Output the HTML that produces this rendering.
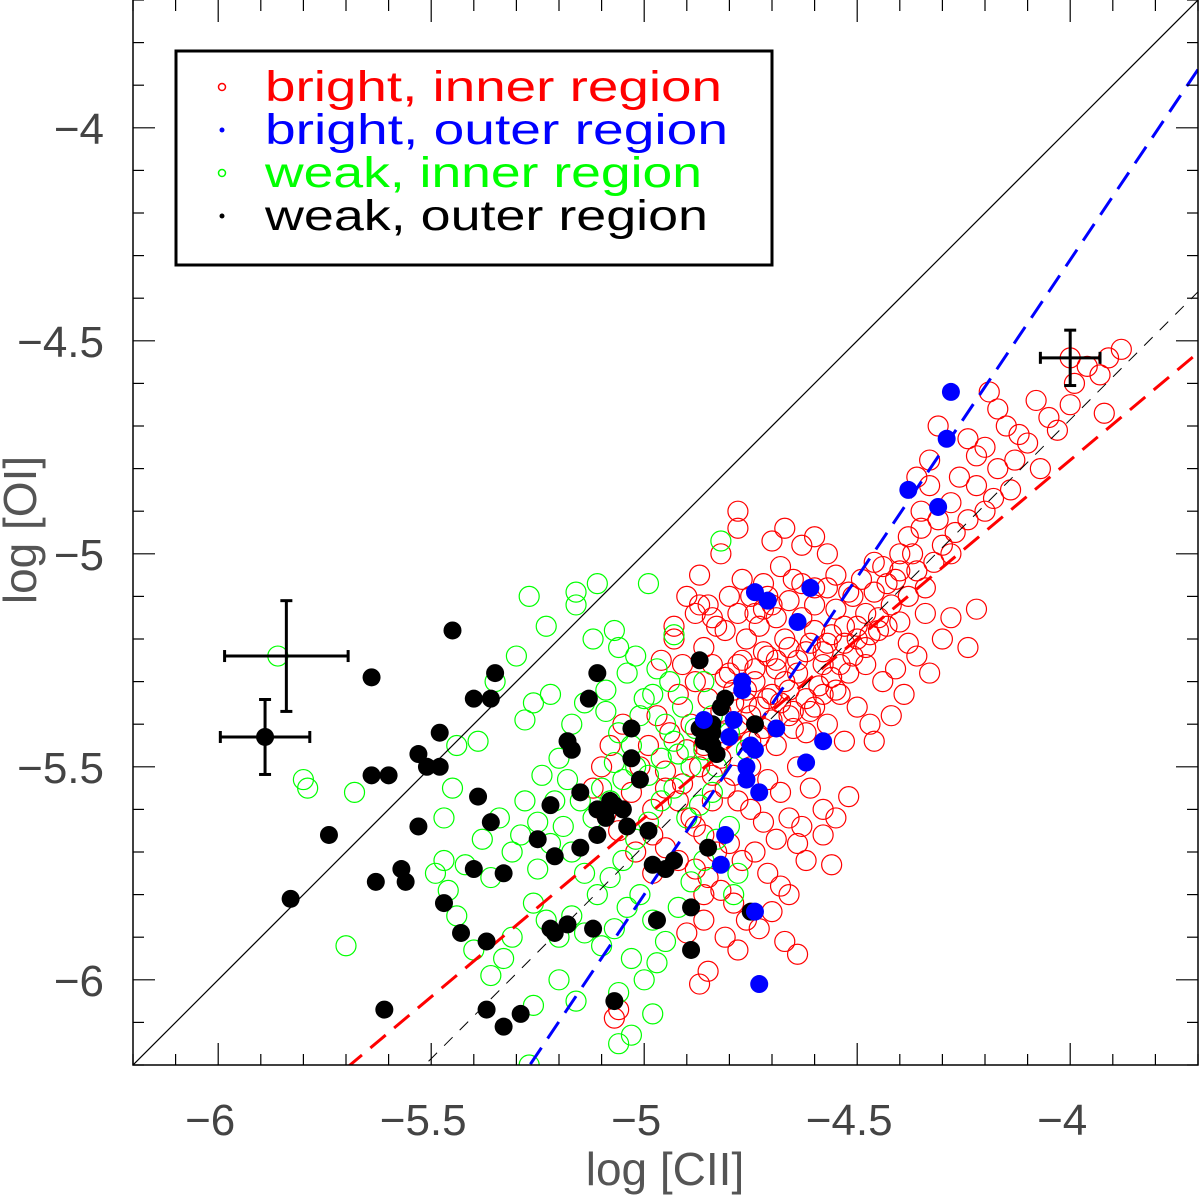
<!DOCTYPE html>
<html><head><meta charset="utf-8"><style>
html,body{margin:0;padding:0;background:#fff;width:1200px;height:1197px;overflow:hidden;}
svg{display:block;font-family:"Liberation Sans",sans-serif;}
</style></head><body>
<svg id="chart" width="1200" height="1197" viewBox="0 0 1200 1197" xmlns="http://www.w3.org/2000/svg">
<g id="marks"></g>
<g id="axes"></g>
<g id="legend">
<rect x="176" y="51" width="596" height="214" fill="#fff" stroke="#000" stroke-width="3"/>
<circle cx="222" cy="87" r="3.5" fill="none" stroke="#f00" stroke-width="1.5"/>
<text x="265" y="101" font-size="43" fill="#f00" textLength="457" lengthAdjust="spacingAndGlyphs">bright, inner region</text>
<circle cx="222" cy="130" r="2.5" fill="#00f"/>
<text x="265" y="144" font-size="43" fill="#00f" textLength="463" lengthAdjust="spacingAndGlyphs">bright, outer region</text>
<circle cx="222" cy="173" r="3.5" fill="none" stroke="#0f0" stroke-width="1.5"/>
<text x="265" y="187" font-size="43" fill="#0f0" textLength="437" lengthAdjust="spacingAndGlyphs">weak, inner region</text>
<circle cx="222" cy="216" r="2.5" fill="#000"/>
<text x="265" y="230" font-size="43" fill="#000" textLength="443" lengthAdjust="spacingAndGlyphs">weak, outer region</text>
</g>
</svg>
<script>
const xTicks=[-6,-5.5,-5,-4.5,-4];
const yTicks=[-6,-5.5,-5,-4.5,-4];
const xTickLabels=["\u22126","\u22125.5","\u22125","\u22124.5","\u22124"];
const yTickLabels=["\u22126","\u22125.5","\u22125","\u22124.5","\u22124"];
const redX=[-3.88,-3.91,-3.93,-3.96,-3.99,-4.0,-3.92,-4.03,-4.05,-4.08,-4.10,-4.12,-4.15,-4.17,-4.19,-4.13,-4.17,-4.07,-4.20,-4.22,-4.24,-4.14,-4.18,-4.22,-4.26,-4.28,-4.24,-4.20,-4.27,-4.30,-4.33,-4.35,-4.31,-4.35,-4.38,-4.28,-4.32,-4.36,-4.40,-4.41,-4.44,-4.34,-4.38,-4.42,-4.46,-4.48,-4.51,-4.40,-4.45,-4.50,-4.53,-4.55,-4.57,-4.60,-4.33,-4.36,-4.31,-4.30,-4.28,-4.22,-4.24,-4.36,-4.33,-4.41,-4.39,-4.44,-4.48,-4.52,-4.55,-4.58,-4.62,-4.64,-4.66,-4.69,-4.71,-4.67,-4.63,-4.70,-4.73,-4.76,-4.78,-4.74,-4.71,-4.76,-4.79,-4.81,-4.84,-4.86,-4.83,-4.88,-4.90,-4.85,-4.80,-4.77,-4.72,-4.68,-4.65,-4.60,-4.57,-4.63,-4.70,-4.78,-4.50,-4.47,-4.53,-4.57,-4.60,-4.62,-4.66,-4.69,-4.72,-4.75,-4.78,-4.82,-4.85,-4.88,-4.91,-4.93,-4.92,-4.89,-4.86,-4.82,-4.79,-4.75,-4.71,-4.68,-4.64,-4.61,-4.58,-4.55,-4.52,-4.56,-4.58,-4.63,-4.66,-4.69,-4.72,-4.75,-4.78,-4.81,-4.84,-4.87,-4.90,-4.94,-4.97,-4.99,-5.01,-5.03,-4.98,-4.95,-4.92,-4.89,-4.86,-4.83,-4.80,-4.77,-4.74,-4.71,-4.68,-4.66,-4.70,-4.73,-4.76,-4.79,-4.82,-4.85,-4.88,-4.92,-4.95,-4.98,-5.02,-5.06,-5.09,-5.12,-5.10,-5.08,-5.05,-4.67,-4.64,-4.78,-4.81,-4.86,-4.90,-4.85,-4.87,-5.06,-5.07,-4.54,-4.46,-4.42,-4.38,-4.34,-4.60,-4.67,-4.78,-4.82,-4.87,-4.93,-4.96,-4.62,-4.64,-4.86,-4.00,
-4.80,-4.77,-4.74,-4.72,-4.69,-4.66,-4.64,-4.61,-4.58,-4.56,-4.53,-4.50,-4.47,-4.45,-4.43,-4.79,-4.76,-4.73,-4.70,-4.67,-4.65,-4.62,-4.59,-4.56,-4.54,-4.51,-4.48,-4.82,-4.78,-4.75,-4.73,-4.70,-4.68,-4.65,-4.61,-4.58,-4.74,-4.71,-4.69,-4.66,-4.63,-4.60,-4.57,-4.55,-4.52,-4.49,-4.46,-4.43,-4.40,-4.37,-4.87,-4.84,-4.81,-4.78,-4.75,-4.72,-4.84,-4.88,-4.91,-4.95,-4.98];
const redY=[-4.52,-4.54,-4.58,-4.56,-4.60,-4.65,-4.67,-4.71,-4.68,-4.64,-4.74,-4.72,-4.70,-4.66,-4.62,-4.78,-4.80,-4.80,-4.75,-4.77,-4.73,-4.85,-4.87,-4.84,-4.82,-4.88,-4.92,-4.90,-4.95,-4.98,-4.84,-4.90,-4.92,-4.94,-4.96,-5.00,-5.02,-5.04,-5.00,-5.06,-5.03,-5.08,-5.10,-5.12,-5.09,-5.14,-5.10,-5.16,-5.18,-5.20,-5.17,-5.13,-5.21,-5.18,-4.78,-4.82,-4.70,-5.20,-5.15,-5.13,-5.22,-5.24,-5.28,-5.27,-5.33,-5.30,-5.26,-5.28,-5.32,-5.26,-5.23,-5.28,-5.32,-5.27,-5.24,-5.20,-5.15,-5.12,-5.17,-5.20,-5.26,-5.30,-5.34,-5.35,-5.32,-5.29,-5.26,-5.22,-5.17,-5.14,-5.10,-5.12,-5.10,-5.06,-5.07,-5.03,-5.06,-5.08,-5.00,-4.98,-4.97,-4.90,-5.36,-5.40,-5.44,-5.40,-5.36,-5.42,-5.38,-5.45,-5.41,-5.44,-5.40,-5.37,-5.34,-5.30,-5.26,-5.20,-5.33,-5.40,-5.45,-5.48,-5.52,-5.50,-5.53,-5.56,-5.50,-5.55,-5.60,-5.62,-5.57,-5.73,-5.66,-5.64,-5.62,-5.67,-5.63,-5.60,-5.58,-5.55,-5.52,-5.50,-5.46,-5.42,-5.38,-5.45,-5.50,-5.56,-5.60,-5.55,-5.58,-5.62,-5.66,-5.70,-5.68,-5.72,-5.70,-5.75,-5.78,-5.80,-5.84,-5.88,-5.86,-5.82,-5.79,-5.76,-5.74,-5.72,-5.69,-5.75,-5.70,-5.65,-5.61,-5.55,-5.50,-5.45,-5.40,-5.91,-5.94,-5.93,-5.90,-5.86,-5.89,-5.98,-6.01,-6.07,-6.09,-5.33,-5.44,-5.38,-5.21,-5.14,-4.96,-4.94,-4.94,-5.00,-5.05,-5.17,-5.25,-5.72,-5.68,-5.80,-4.54,
-5.28,-5.25,-5.27,-5.23,-5.25,-5.22,-5.25,-5.21,-5.23,-5.19,-5.21,-5.17,-5.19,-5.15,-5.17,-5.35,-5.32,-5.36,-5.33,-5.30,-5.37,-5.34,-5.31,-5.29,-5.26,-5.24,-5.22,-5.42,-5.40,-5.38,-5.43,-5.39,-5.35,-5.41,-5.37,-5.33,-5.14,-5.10,-5.15,-5.11,-5.07,-5.12,-5.08,-5.05,-5.09,-5.06,-5.02,-5.07,-5.04,-5.00,-5.12,-5.15,-5.18,-5.14,-5.10,-5.13,-5.58,-5.64,-5.54,-5.51,-5.66];
const greenX=[-5.86,-5.80,-5.79,-5.68,-5.70,-5.44,-5.35,-5.30,-5.27,-5.23,-5.16,-5.16,-5.11,-5.07,-4.99,-4.93,-5.28,-5.22,-5.12,-5.06,-5.02,-4.97,-5.26,-5.39,-5.45,-5.47,-5.47,-5.49,-5.46,-5.44,-5.40,-5.36,-5.33,-5.31,-5.36,-5.31,-5.28,-5.24,-5.20,-5.17,-5.14,-5.09,-5.06,-5.03,-5.01,-4.98,-4.95,-4.92,-4.89,-4.86,-4.83,-4.80,-4.84,-4.87,-4.90,-4.93,-4.96,-4.99,-5.02,-5.05,-5.08,-5.11,-5.14,-5.17,-5.19,-5.22,-5.25,-5.26,-5.23,-5.20,-5.17,-5.14,-5.10,-5.07,-5.04,-5.01,-4.98,-4.95,-4.92,-4.89,-4.86,-4.83,-4.80,-4.78,-4.79,-4.97,-5.00,-5.03,-5.06,-5.03,-5.06,-4.98,-5.16,-5.20,-5.26,-5.27,-5.12,-5.08,-5.05,-5.02,-4.99,-4.96,-4.93,-5.07,-5.10,-5.15,-5.18,-5.21,-5.25,-5.29,-5.34,-5.38,-5.42,-4.84,-4.86,-4.82,-4.76,-4.88,-4.91,-4.94,-5.00,-5.04,-5.09];
const greenY=[-5.24,-5.53,-5.55,-5.56,-5.92,-5.45,-5.30,-5.24,-5.10,-5.17,-5.12,-5.09,-5.07,-5.18,-5.07,-5.19,-5.39,-5.33,-5.20,-5.22,-5.24,-5.27,-5.35,-5.44,-5.55,-5.62,-5.72,-5.75,-5.79,-5.85,-5.93,-5.99,-5.95,-5.90,-5.76,-5.70,-5.58,-5.52,-5.48,-5.40,-5.35,-5.37,-5.42,-5.45,-5.38,-5.33,-5.40,-5.47,-5.50,-5.46,-5.50,-5.42,-5.56,-5.59,-5.62,-5.55,-5.58,-5.63,-5.67,-5.72,-5.76,-5.80,-5.75,-5.70,-5.64,-5.68,-5.74,-5.82,-5.86,-5.90,-5.85,-5.89,-5.92,-5.88,-5.83,-5.80,-5.86,-5.91,-5.83,-5.77,-5.72,-5.67,-5.64,-5.75,-5.80,-5.96,-6.00,-5.95,-6.03,-6.13,-6.15,-6.08,-6.05,-6.00,-6.06,-6.20,-5.62,-5.58,-5.53,-5.50,-5.52,-5.48,-5.44,-5.49,-5.55,-5.58,-5.53,-5.58,-5.63,-5.66,-5.62,-5.67,-5.73,-5.38,-5.30,-4.97,-5.46,-5.41,-5.36,-5.30,-5.34,-5.28,-5.32];
const blackX=[-5.45,-5.64,-5.35,-5.40,-5.36,-5.83,-5.74,-5.64,-5.60,-5.61,-5.63,-5.56,-5.57,-5.53,-5.51,-5.48,-5.48,-5.53,-5.47,-5.43,-5.37,-5.39,-5.36,-5.40,-5.33,-5.37,-5.33,-5.29,-5.25,-5.22,-5.21,-5.18,-5.17,-5.18,-5.21,-5.22,-5.15,-5.13,-5.11,-5.12,-5.11,-5.11,-5.09,-5.08,-5.07,-5.05,-5.04,-5.03,-5.03,-5.01,-4.99,-4.98,-4.97,-4.95,-4.93,-4.89,-4.89,-5.07,-4.87,-4.86,-4.87,-4.84,-4.83,-4.84,-4.81,-4.85,-4.84,-4.82,-4.74,-4.75,-5.15,-5.89];
const blackY=[-5.18,-5.29,-5.28,-5.34,-5.34,-5.81,-5.66,-5.52,-5.52,-6.07,-5.77,-5.77,-5.74,-5.47,-5.50,-5.42,-5.50,-5.64,-5.82,-5.89,-5.91,-5.57,-5.63,-5.74,-5.75,-6.07,-6.11,-6.08,-5.67,-5.59,-5.71,-5.44,-5.46,-5.87,-5.89,-5.88,-5.56,-5.34,-5.28,-5.88,-5.60,-5.66,-5.62,-5.58,-5.59,-5.60,-5.64,-5.41,-5.48,-5.53,-5.65,-5.73,-5.86,-5.74,-5.72,-5.83,-5.93,-6.05,-5.25,-5.44,-5.41,-5.42,-5.47,-5.45,-5.34,-5.69,-5.40,-5.36,-5.40,-5.84,-5.69,-5.43];
const blueX=[-4.74,-4.71,-4.61,-4.64,-4.77,-4.77,-4.86,-4.79,-4.80,-4.69,-4.75,-4.74,-4.76,-4.76,-4.73,-4.58,-4.62,-4.81,-4.82,-4.74,-4.73,-4.28,-4.29,-4.38,-4.31];
const blueY=[-5.09,-5.11,-5.08,-5.16,-5.30,-5.32,-5.39,-5.39,-5.43,-5.41,-5.45,-5.46,-5.50,-5.53,-5.56,-5.44,-5.49,-5.66,-5.73,-5.84,-6.01,-4.62,-4.73,-4.85,-4.89];
const fitNames=["one-to-one","blue-fit","red-fit","black-fit"];
const fitSlopes=[1.0,1.49,0.84,1.0];
const fitIntercepts=[0.0,1.65,-1.42,-0.685];
const errX=[-5.89,-5.84,-4.0];
const errY=[-5.43,-5.24,-4.54];
const errDX=[0.105,0.145,0.07];
const errDY=[0.088,0.13,0.065];

const L=133,R=1198,T=0,B=1065,XMIN=-6.2,XMAX=-3.7,YMIN=-6.2,YMAX=-3.7;
function sx(v){return L+(v-XMIN)/(XMAX-XMIN)*(R-L);}
function sy(v){return B-(v-YMIN)/(YMAX-YMIN)*(B-T);}
const NS="http://www.w3.org/2000/svg";
function mk(tag,attrs,parent){const e=document.createElementNS(NS,tag);for(const k in attrs)e.setAttribute(k,attrs[k]);parent.appendChild(e);return e;}
const marks=document.getElementById('marks');
const axes=document.getElementById('axes');
const clip=mk('clipPath',{id:'pc'},document.getElementById('chart'));
mk('rect',{x:L,y:T,width:R-L,height:B-T},clip);
marks.setAttribute('clip-path','url(#pc)');

for(let i=0;i<redX.length;i++){const c=mk('circle',{cx:sx(redX[i]),cy:sy(redY[i]),r:10,fill:'none',stroke:'#f00','stroke-width':1.2},marks);

}
for(let i=0;i<greenX.length;i++){const c=mk('circle',{cx:sx(greenX[i]),cy:sy(greenY[i]),r:10,fill:'none',stroke:'#0f0','stroke-width':1.2},marks);

}
const fitStyles=[{stroke:'#000',w:1.2,d:''},{stroke:'#00f',w:3,d:'20 11'},{stroke:'#f00',w:3,d:'20 11'},{stroke:'#000',w:1,d:'12 10'}];
for(let i=0;i<fitNames.length;i++){const s=fitStyles[i];
const ln=mk('line',{x1:sx(XMIN),y1:sy(fitSlopes[i]*XMIN+fitIntercepts[i]),x2:sx(XMAX),y2:sy(fitSlopes[i]*XMAX+fitIntercepts[i]),stroke:s.stroke,'stroke-width':s.w,'stroke-dasharray':s.d},marks);

}
for(let i=0;i<blackX.length;i++){const c=mk('circle',{cx:sx(blackX[i]),cy:sy(blackY[i]),r:9,fill:'#000'},marks);

}
for(let i=0;i<blueX.length;i++){const c=mk('circle',{cx:sx(blueX[i]),cy:sy(blueY[i]),r:9,fill:'#00f'},marks);

}
for(let i=0;i<errX.length;i++){const g=mk('g',{stroke:'#000','stroke-width':3},marks);


const x0=sx(errX[i]-errDX[i]),x1=sx(errX[i]+errDX[i]),y0=sy(errY[i]-errDY[i]),y1=sy(errY[i]+errDY[i]),cx=sx(errX[i]),cy=sy(errY[i]);
mk('line',{x1:x0,y1:cy,x2:x1,y2:cy},g);mk('line',{x1:cx,y1:y0,x2:cx,y2:y1},g);
mk('line',{x1:x0,y1:cy-6,x2:x0,y2:cy+6},g);mk('line',{x1:x1,y1:cy-6,x2:x1,y2:cy+6},g);
mk('line',{x1:cx-6,y1:y0,x2:cx+6,y2:y0},g);mk('line',{x1:cx-6,y1:y1,x2:cx+6,y2:y1},g);}

const frame=mk('rect',{x:L,y:T-2,width:R-L,height:B-T+2,fill:'none',stroke:'#000','stroke-width':1.5},axes);


for(let k=-62;k<=-37;k++){const v=k/10,major=(k%5===0),len=major?22:11;
const X=sx(v),Y=sy(v);
mk('line',{x1:X,y1:B,x2:X,y2:B-len,stroke:'#000','stroke-width':1.2},axes);
mk('line',{x1:X,y1:T,x2:X,y2:T+len,stroke:'#000','stroke-width':1.2},axes);
mk('line',{x1:L,y1:Y,x2:L+len,y2:Y,stroke:'#000','stroke-width':1.2},axes);
mk('line',{x1:R,y1:Y,x2:R-len,y2:Y,stroke:'#000','stroke-width':1.2},axes);}
for(let i=0;i<xTicks.length;i++){const t=mk('text',{x:sx(xTicks[i])-8,y:1135,'font-size':44,fill:'#444','text-anchor':'middle'},axes);t.textContent=xTickLabels[i];

}
for(let i=0;i<yTicks.length;i++){const t=mk('text',{x:104,y:sy(yTicks[i])+16,'font-size':44,fill:'#444','text-anchor':'end'},axes);t.textContent=yTickLabels[i];

}
const xt=mk('text',{x:665,y:1185,'font-size':46,fill:'#555','text-anchor':'middle'},axes);xt.textContent='log [CII]';


const yt=mk('text',{x:0,y:0,'font-size':46,fill:'#555','text-anchor':'middle',transform:'translate(36,530) rotate(-90)'},axes);yt.textContent='log [OI]';


</script>
</body></html>
